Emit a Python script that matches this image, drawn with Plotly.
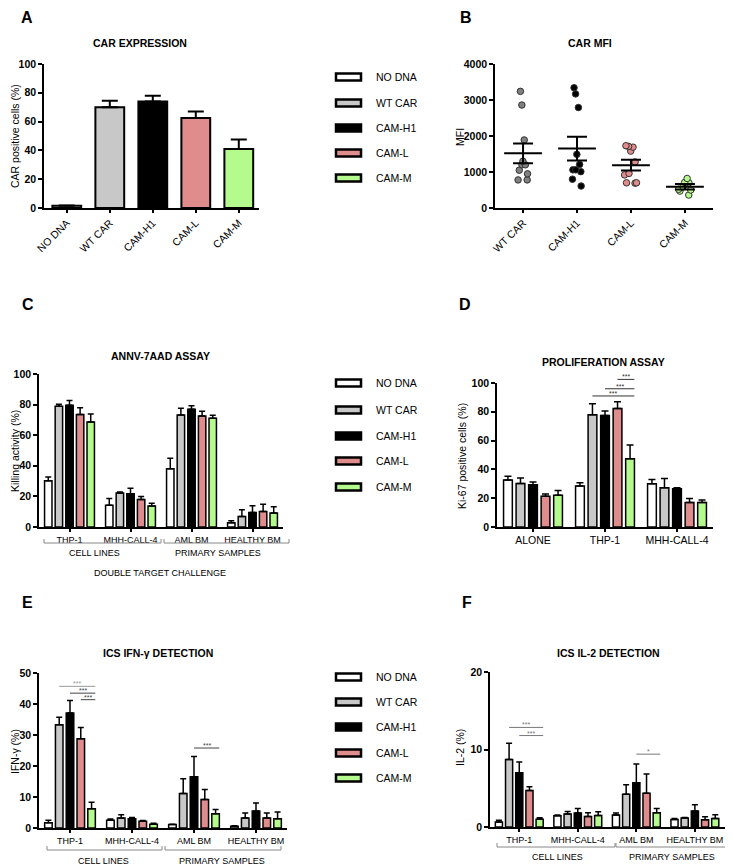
import plotly.graph_objects as go

W, H = 733, 867
PAGE_MARGIN = 8  # default body margin of the html page
FONT = 'Liberation Sans, Arial, sans-serif'
BARGAP = 0.13

groups = ['NO DNA', 'WT CAR', 'CAM-H1', 'CAM-L', 'CAM-M']
colors = ['#ffffff', '#c8c8c8', '#000000', '#e08c8c', '#b4fa8c']
dot_colors = ['#808080', '#000000', '#e08c8c', '#b4fa8c']

# A - CAR expression (mean, top of error bar)
car_expr = [1.5, 70, 74, 62.5, 41]
car_expr_top = [1.8, 74.5, 78, 67, 47.5]

# B - CAR MFI, single donors + mean/SEM
mfi_wt = [3240, 2860, 1890, 1300, 1200, 1200, 1050, 950, 780, 780]
mfi_h1 = [3340, 3170, 2790, 1490, 1210, 1060, 1060, 1010, 800, 610]
mfi_l = [1730, 1710, 1690, 1580, 1280, 960, 920, 700, 690, 700]
mfi_m = [820, 710, 700, 590, 520, 500, 470, 360]
mfi_mean = [1520, 1650, 1190, 590]
mfi_sem = [275, 330, 150, 75]

# C - ANNV-7AAD killing (rows follow `groups`)
kill_targets = ['THP-1', 'MHH-CALL-4', 'AML BM', 'HEALTHY BM']
kill_mean = [[30.3, 14.2, 38.1, 2.8],
             [79.0, 22.2, 73.2, 6.8],
             [79.5, 21.8, 76.9, 9.4],
             [73.6, 17.9, 72.5, 10.2],
             [68.6, 13.7, 71.0, 9.2]]
kill_top = [[32.7, 18.7, 44.9, 4.1],
            [80.2, 22.9, 77.6, 11.3],
            [82.6, 25.3, 79.3, 13.9],
            [78.0, 20.0, 75.6, 14.8],
            [73.9, 15.5, 73.0, 13.3]]

# D - Ki-67 proliferation
prolif_targets = ['ALONE', 'THP-1', 'MHH-CALL-4']
prolif_mean = [[32.6, 28.4, 30.0],
               [30.2, 77.9, 27.2],
               [29.3, 77.4, 26.5],
               [21.4, 82.3, 17.0],
               [22.1, 47.4, 17.0]]
prolif_top = [[35.3, 30.7, 33.0],
              [34.0, 85.6, 33.7],
              [31.2, 80.5, 27.2],
              [23.0, 87.0, 19.8],
              [25.3, 57.0, 18.8]]

# E - IFN-gamma
ifn_mean = [[1.7, 2.5, 1.1, 0.6],
            [33.3, 3.2, 11.1, 3.2],
            [37.1, 3.0, 16.5, 5.5],
            [28.8, 2.2, 9.2, 3.2],
            [6.2, 1.2, 4.6, 3.0]]
ifn_top = [[2.5, 2.9, 1.2, 0.7],
           [35.7, 4.3, 15.9, 4.8],
           [41.1, 3.4, 23.1, 8.1],
           [32.4, 2.4, 12.4, 4.8],
           [8.3, 1.5, 6.0, 5.2]]

# F - IL-2
il2_mean = [[0.64, 1.46, 1.54, 0.98],
            [8.7, 1.67, 4.24, 1.16],
            [7.0, 1.8, 5.7, 2.06],
            [4.7, 1.37, 4.37, 0.94],
            [1.0, 1.5, 1.84, 1.1]]
il2_top = [[0.86, 1.54, 1.8, 1.1],
           [10.8, 2.0, 5.44, 1.24],
           [8.4, 2.4, 8.14, 2.87],
           [5.2, 1.84, 6.85, 1.33],
           [1.2, 1.97, 2.4, 1.58]]

# significance bars: (group index, first bar index, level, label)
prolif_sig = [(1, 1, 91, '***'), (1, 2, 96, '***'), (1, 3, 102.5, '***')]
ifn_sig = [(0, 1, 45.7, '***'), (0, 2, 43.5, '***'), (0, 3, 41.4, '***'), (2, 2, 25.8, '***')]
il2_sig = [(0, 1, 12.85, '***'), (0, 2, 11.8, '***'), (2, 2, 9.4, '*')]


# page pixel -> paper fraction (the figure sits 8px in from the page corner)
def fx(x):
    return (x - PAGE_MARGIN) / W


def fy(y):
    return 1 - (y - PAGE_MARGIN) / H


def off(j):
    return (j - 2) * (1 - BARGAP) / 5


def note(text, x, y, font, **kw):
    kw.setdefault('xanchor', 'center')
    fig.add_annotation(xref='paper', yref='paper', x=fx(x), y=fy(y), text=text,
                       showarrow=False, yanchor='middle', font=font, **kw)


fig = go.Figure()

# A
fig.add_trace(go.Bar(
    x=groups, y=car_expr, width=0.67, showlegend=False,
    marker=dict(color=colors, line=dict(color='black', width=2)),
    error_y=dict(type='data', symmetric=False,
                 array=[t - m for t, m in zip(car_expr_top, car_expr)],
                 arrayminus=[0] * 5, color='black', thickness=2, width=8),
    xaxis='x', yaxis='y'))

# B
for name, vals, c in zip(groups[1:], [mfi_wt, mfi_h1, mfi_l, mfi_m], dot_colors):
    fig.add_trace(go.Box(
        x=[name] * len(vals), y=vals, boxpoints='all', jitter=0.6, pointpos=0,
        fillcolor='rgba(0,0,0,0)', line=dict(color='rgba(0,0,0,0)', width=0),
        marker=dict(color=c, size=6.5, line=dict(color='#333333', width=1)),
        showlegend=False, xaxis='x2', yaxis='y2'))
fig.add_trace(go.Scatter(
    x=groups[1:], y=mfi_mean, mode='markers', showlegend=False,
    marker=dict(symbol='line-ew-open', size=27, color='black',
                line=dict(color='black', width=2)),
    error_y=dict(type='data', array=mfi_sem, color='black', thickness=2, width=10),
    xaxis='x2', yaxis='y2'))


def grouped(targets, means, tops, xa, ya, cap):
    for j, g in enumerate(groups):
        fig.add_trace(go.Bar(
            x=targets, y=means[j], name=g, showlegend=False,
            marker=dict(color=colors[j], line=dict(color='black', width=1.5)),
            error_y=dict(type='data', symmetric=False,
                         array=[t - m for t, m in zip(tops[j], means[j])],
                         arrayminus=[0] * len(targets), color='black',
                         thickness=1.5, width=cap),
            xaxis=xa, yaxis=ya))


grouped(kill_targets, kill_mean, kill_top, 'x3', 'y3', 3)
grouped(prolif_targets, prolif_mean, prolif_top, 'x4', 'y4', 3.5)
grouped(kill_targets, ifn_mean, ifn_top, 'x5', 'y5', 3)
grouped(kill_targets, il2_mean, il2_top, 'x6', 'y6', 3)

axis = dict(showline=True, linecolor='black', linewidth=1.5, ticks='outside',
            tickcolor='black', tickwidth=1.5, ticklen=4, showgrid=False,
            zeroline=False, fixedrange=True, automargin=False)
bold = dict(family=FONT, size=10.5, color='black', weight='bold')

panels = {
    # key: (x px, y px (top, bottom), x range, y max, y dtick, x tick size)
    '': ((44, 259), (64, 208), [-0.53, 4.47], 100, 20, 10.5),
    '2': ((495, 713), (64, 208), [-0.52, 3.52], 4000, 1000, 10.5),
    '3': ((39, 283), (374, 527), [-0.5, 3.5], 100, 20, 9),
    '4': ((497, 713), (383, 527), [-0.5, 2.5], 100, 20, 10.5),
    '5': ((39, 287), (673, 828), [-0.5, 3.5], 50, 10, 9),
    '6': ((490, 730), (672, 827), [-0.5, 3.6], 20, 10, 9),
}
ydoms = {}
for k, (xp, yp, xr, ymax, dt, xs) in panels.items():
    ydom = [fy(yp[1]), fy(yp[0])]
    ydoms[k] = (ydom, ymax)
    fig.update_layout(**{
        'xaxis' + k: dict(axis, domain=[fx(xp[0]), fx(xp[1])], range=xr,
                          anchor='y' + k, ticklen=3,
                          tickfont=dict(family=FONT, size=xs, color='black'),
                          tickangle=-45 if k in ('', '2') else 0),
        'yaxis' + k: dict(axis, domain=ydom, range=[0, ymax], dtick=dt,
                          anchor='x' + k, tickfont=bold),
    })

# significance lines
for sigs, k, col in [(prolif_sig, '4', '#333333'), (ifn_sig, '5', '#444444'), (il2_sig, '6', '#777777')]:
    ydom, ymax = ydoms[k]
    for n, (gi, j, lvl, txt) in enumerate(sigs):
        yp = ydom[0] + lvl / ymax * (ydom[1] - ydom[0])
        x0 = gi + off(j)
        x1 = gi + off(4) + 0.06
        c = '#999999' if (k == '5' and n == 0) else col
        fig.add_shape(type='line', xref='x' + k, yref='paper', x0=x0, x1=x1,
                      y0=yp, y1=yp, line=dict(color=c, width=1))
        fig.add_annotation(xref='x' + k, yref='paper', x=(x0 + x1) / 2, y=yp,
                           text=txt, showarrow=False, xanchor='center',
                           yanchor='bottom', yshift=-3,
                           font=dict(family=FONT, size=7, color=c))

# panel letters, titles, axis titles
for t, x, y in [('A', 27, 18), ('B', 466, 18), ('C', 28, 305),
                ('D', 465, 305), ('E', 27, 602), ('F', 467, 602)]:
    note(t, x, y, dict(family=FONT, size=16, color='black', weight='bold'))
for t, x, y in [('CAR EXPRESSION', 140, 43), ('CAR MFI', 590, 43),
                ('ANNV-7AAD ASSAY', 160, 356), ('PROLIFERATION ASSAY', 603, 362),
                ('ICS IFN-γ DETECTION', 158, 653), ('ICS IL-2 DETECTION', 608, 653)]:
    note(t, x, y, bold)
for t, x, y in [('CAR positive cells (%)', 15, 136), ('MFI', 460, 137),
                ('Killing activity (%)', 15, 451), ('Ki-67 positive cells (%)', 462, 456),
                ('IFN-γ (%)', 15, 752), ('IL-2 (%)', 460, 748)]:
    note(t, x, y, dict(family=FONT, size=10.5, color='black'), textangle=-90)

# sample-type brackets
small = dict(family=FONT, size=9, color='black')
for x0, x1, y in [(44, 161, 543), (164, 289, 543), (47, 162, 850), (165, 281, 850),
                  (497, 615, 847), (616, 730, 847)]:
    fig.add_shape(type='path', xref='paper', yref='paper',
                  path=f'M {fx(x0)},{fy(y - 4)} L {fx(x0)},{fy(y)} L {fx(x1)},{fy(y)} L {fx(x1)},{fy(y - 4)}',
                  line=dict(color='#888888', width=1))
for t, x, y in [('CELL LINES', 94, 553), ('PRIMARY SAMPLES', 218, 553),
                ('DOUBLE TARGET CHALLENGE', 160, 573),
                ('CELL LINES', 103, 861), ('PRIMARY SAMPLES', 222, 861),
                ('CELL LINES', 557, 857), ('PRIMARY SAMPLES', 672, 857)]:
    note(t, x, y, small)

# legends
for rows in [(77, 103, 128, 153, 178), (383, 410, 436, 461, 487), (677, 702, 727, 753, 778)]:
    for g, c, y in zip(groups, colors, rows):
        fig.add_shape(type='rect', xref='paper', yref='paper',
                      x0=fx(336), x1=fx(361), y0=fy(y + 3.5), y1=fy(y - 3.5),
                      fillcolor=c, line=dict(color='black', width=2.5))
        note(g, 374, y, dict(family=FONT, size=10.5, color='black'), xanchor='left')

fig.update_layout(width=W, height=H, margin=dict(l=0, r=0, t=0, b=0, pad=0, autoexpand=False),
                  paper_bgcolor='white', plot_bgcolor='white',
                  barmode='group', bargap=BARGAP, bargroupgap=0.3,
                  boxgap=0.3, showlegend=False, font=dict(family=FONT))

fig.write_html("out.html")
